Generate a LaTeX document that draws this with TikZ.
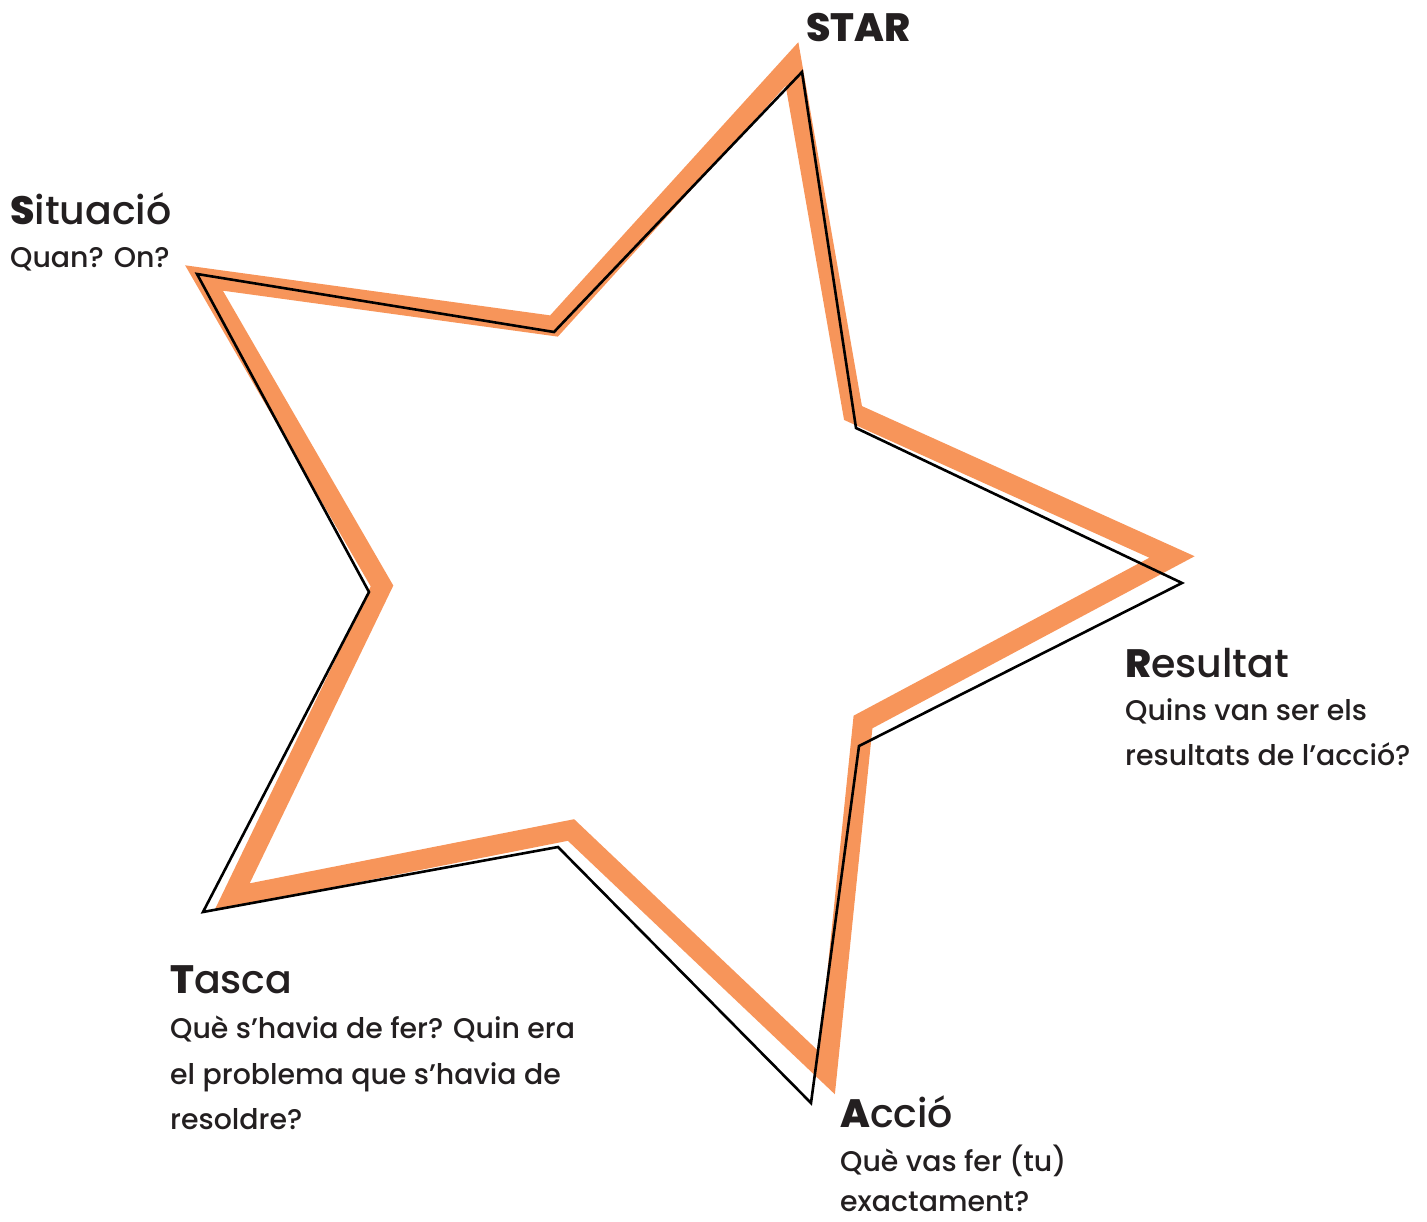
\documentclass[tikz,border=0pt]{standalone}
\usepackage{fontspec}
\setmainfont{Poppins}
\newfontfamily\popmed{Poppins Medium}
\definecolor{starorange}{HTML}{F7955A}
\definecolor{txt}{HTML}{231F20}
\tikzset{
  orangeline/.style={draw=starorange, line width=20pt, line join=miter, miter limit=12},
  blackline/.style={draw=black, line width=2.6pt, line join=miter, miter limit=12},
  head/.style={anchor=base west, inner sep=0pt, text=txt, font=\popmed\fontsize{39.5}{48}\selectfont},
  body/.style={anchor=base west, inner sep=0pt, text=txt, font=\popmed\fontsize{28.4}{45}\selectfont},
}
\begin{document}
\begin{tikzpicture}[x=1pt,y=-1pt]
\useasboundingbox (0,0) rectangle (1427,1222);
% orange star (centerline)
\coordinate (o1) at (792,64);
\coordinate (o2) at (853,413);
\coordinate (o3) at (1172,557);
\coordinate (o4) at (863,722);
\coordinate (o5) at (827,1073);
\coordinate (o6) at (571,830);
\coordinate (o7) at (232,897);
\coordinate (o8) at (382,586);
\coordinate (o9) at (204,278);
\coordinate (o10) at (554,326);
\draw[orangeline] (o1) -- (o2) -- (o3) -- (o4) -- (o5) -- (o6) -- (o7) -- (o8) -- (o9) -- (o10) -- cycle;
% black star
\coordinate (b1) at (802,72);
\coordinate (b2) at (856,428);
\coordinate (b3) at (1182,583);
\coordinate (b4) at (859,746);
\coordinate (b5) at (811,1103);
\coordinate (b6) at (558,847);
\coordinate (b7) at (203,912);
\coordinate (b8) at (369,592);
\coordinate (b9) at (197,274);
\coordinate (b10) at (554,332);
\draw[blackline] (b1) -- (b2) -- (b3) -- (b4) -- (b5) -- (b6) -- (b7) -- (b8) -- (b9) -- (b10) -- cycle;
% labels
\node[head] (star) at (806,42) {\bfseries STAR};
\node[head] (sit) at (10,225) {{\bfseries S}ituació};
\node[body] (sit1) at (10,268) {Quan? On?};
\node[head] (res) at (1125,677) {{\bfseries R}esultat};
\node[body] (res1) at (1125,720) {Quins van ser els};
\node[body] (res2) at (1125,765) {resultats de l’acció?};
\node[head] (tas) at (170,993) {{\bfseries T}asca};
\node[body] (tas1) at (170,1038) {Què s’havia de fer? Quin era};
\node[body] (tas2) at (170,1084) {el problema que s’havia de};
\node[body] (tas3) at (170,1129) {resoldre?};
\node[head] (acc) at (840,1127) {{\bfseries A}cció};
\node[body] (acc1) at (840,1171) {Què vas fer (tu)};
\node[body] (acc2) at (840,1211) {exactament?};
\end{tikzpicture}
\end{document}
